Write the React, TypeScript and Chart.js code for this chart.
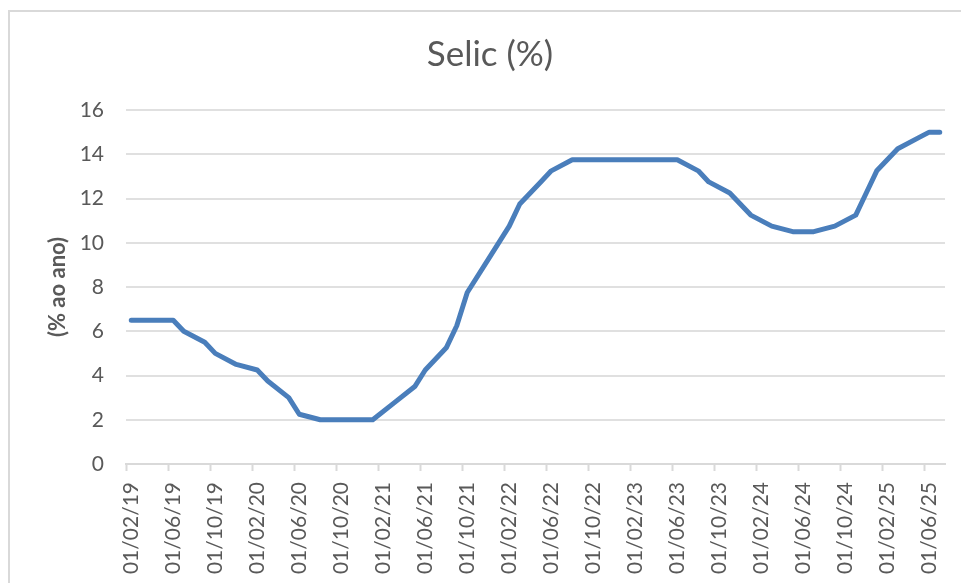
import React, { useEffect, useRef } from "react";
import { Chart, registerables } from "chart.js";

Chart.register(...registerables);

// Category axis: months Feb/2019 .. Jul/2025 (MM/YY)
const firstYear = 2019;
const firstMonth = 2;
const monthCount = 78;
const monthLabels: string[] = [];
for (let i = 0; i < monthCount; i++) {
  const m = ((firstMonth - 1 + i) % 12) + 1;
  const y = firstYear + Math.floor((firstMonth - 1 + i) / 12);
  monthLabels.push(String(m).padStart(2, "0") + "/" + String(y % 100).padStart(2, "0"));
}

// Copom meetings (month) and Selic target (% a.a.)
const meetingMonths = [
  "02/19", "03/19", "05/19", "06/19", "07/19", "09/19", "10/19", "12/19",
  "02/20", "03/20", "05/20", "06/20", "08/20", "09/20", "10/20", "12/20",
  "01/21", "03/21", "05/21", "06/21", "08/21", "09/21", "10/21", "12/21",
  "02/22", "03/22", "05/22", "06/22", "08/22", "09/22", "10/22", "12/22",
  "02/23", "03/23", "05/23", "06/23", "08/23", "09/23", "11/23", "12/23",
  "01/24", "03/24", "05/24", "06/24", "07/24", "09/24", "11/24", "12/24",
  "01/25", "03/25", "05/25", "06/25", "07/25",
];
const selicValues = [
  6.5, 6.5, 6.5, 6.5, 6.0, 5.5, 5.0, 4.5,
  4.25, 3.75, 3.0, 2.25, 2.0, 2.0, 2.0, 2.0,
  2.0, 2.75, 3.5, 4.25, 5.25, 6.25, 7.75, 9.25,
  10.75, 11.75, 12.75, 13.25, 13.75, 13.75, 13.75, 13.75,
  13.75, 13.75, 13.75, 13.75, 13.25, 12.75, 12.25, 11.75,
  11.25, 10.75, 10.5, 10.5, 10.5, 10.75, 11.25, 12.25,
  13.25, 14.25, 14.75, 15.0, 15.0,
];

const TEXT = "#595959";
const GRID = "#e0e0e0";
const FONT = "Lato, 'Noto Sans', sans-serif";

export default function App() {
  const ref = useRef<HTMLCanvasElement | null>(null);

  useEffect(() => {
    if (!ref.current) return;
    const chart = new Chart(ref.current, {
      type: "line",
      data: {
        labels: monthLabels,
        datasets: [
          {
            label: "Selic",
            data: meetingMonths.map((m, i) => ({ x: m, y: selicValues[i] })) as any,
            borderColor: "#4A7EBB",
            backgroundColor: "#4A7EBB",
            borderWidth: 5,
            pointRadius: 0,
            tension: 0,
            fill: false,
            borderCapStyle: "round",
            borderJoinStyle: "round",
          },
        ],
      },
      options: {
        animation: false,
        responsive: false,
        maintainAspectRatio: false,
        layout: { padding: { left: 35, right: 16, top: 0, bottom: 0 } },
        plugins: {
          legend: { display: false },
          tooltip: { enabled: false },
          title: {
            display: true,
            text: "Selic (%)",
            color: TEXT,
            font: { family: FONT, size: 35, weight: "normal", lineHeight: 1.2 },
            padding: { top: 34, bottom: 34 },
          },
        },
        scales: {
          x: {
            type: "category",
            offset: true,
            grid: {
              offset: true,
              drawOnChartArea: false,
              drawTicks: true,
              tickLength: 7,
              tickWidth: 2,
              tickColor: (ctx: any) =>
                ctx.type === "tick" && ctx.index % 4 === 0 ? "#d9d9d9" : "rgba(0,0,0,0)",
            },
            border: { display: true, color: "#d9d9d9", width: 2 },
            ticks: {
              autoSkip: false,
              maxRotation: 90,
              minRotation: 90,
              padding: 11,
              color: TEXT,
              font: { family: FONT, size: 21 },
              callback: (_v: any, idx: number) => (idx % 4 === 0 ? "01/" + monthLabels[idx] : ""),
            },
            afterFit: (scale: any) => {
              scale.height = 119;
              scale.paddingLeft = 0;
              scale.paddingRight = 0;
            },
          },
          y: {
            min: 0,
            max: 16,
            ticks: {
              stepSize: 2,
              padding: 22,
              color: TEXT,
              font: { family: FONT, size: 21 },
            },
            grid: { color: GRID, lineWidth: 2, drawTicks: false },
            border: { display: false },
            title: {
              display: true,
              text: "(% ao ano)",
              color: TEXT,
              font: { family: FONT, size: 22, weight: "bold", lineHeight: 1.2 },
              padding: { top: 10, bottom: 0 },
            },
            afterFit: (scale: any) => {
              scale.width = 91;
            },
          },
        },
      },
    });
    return () => chart.destroy();
  }, []);

  return (
    <div style={{ position: "fixed", left: 0, top: 0, width: 961, height: 583, overflow: "hidden", background: "#fff" }}>
      <div
        style={{
          position: "absolute",
          left: 8,
          top: 10,
          width: 1000,
          height: 640,
          border: "2px solid #d9d9d9",
          boxSizing: "border-box",
        }}
      />
      <canvas ref={ref} width={961} height={583} style={{ position: "absolute", left: 0, top: 0, width: 961, height: 583 }} />
    </div>
  );
}
